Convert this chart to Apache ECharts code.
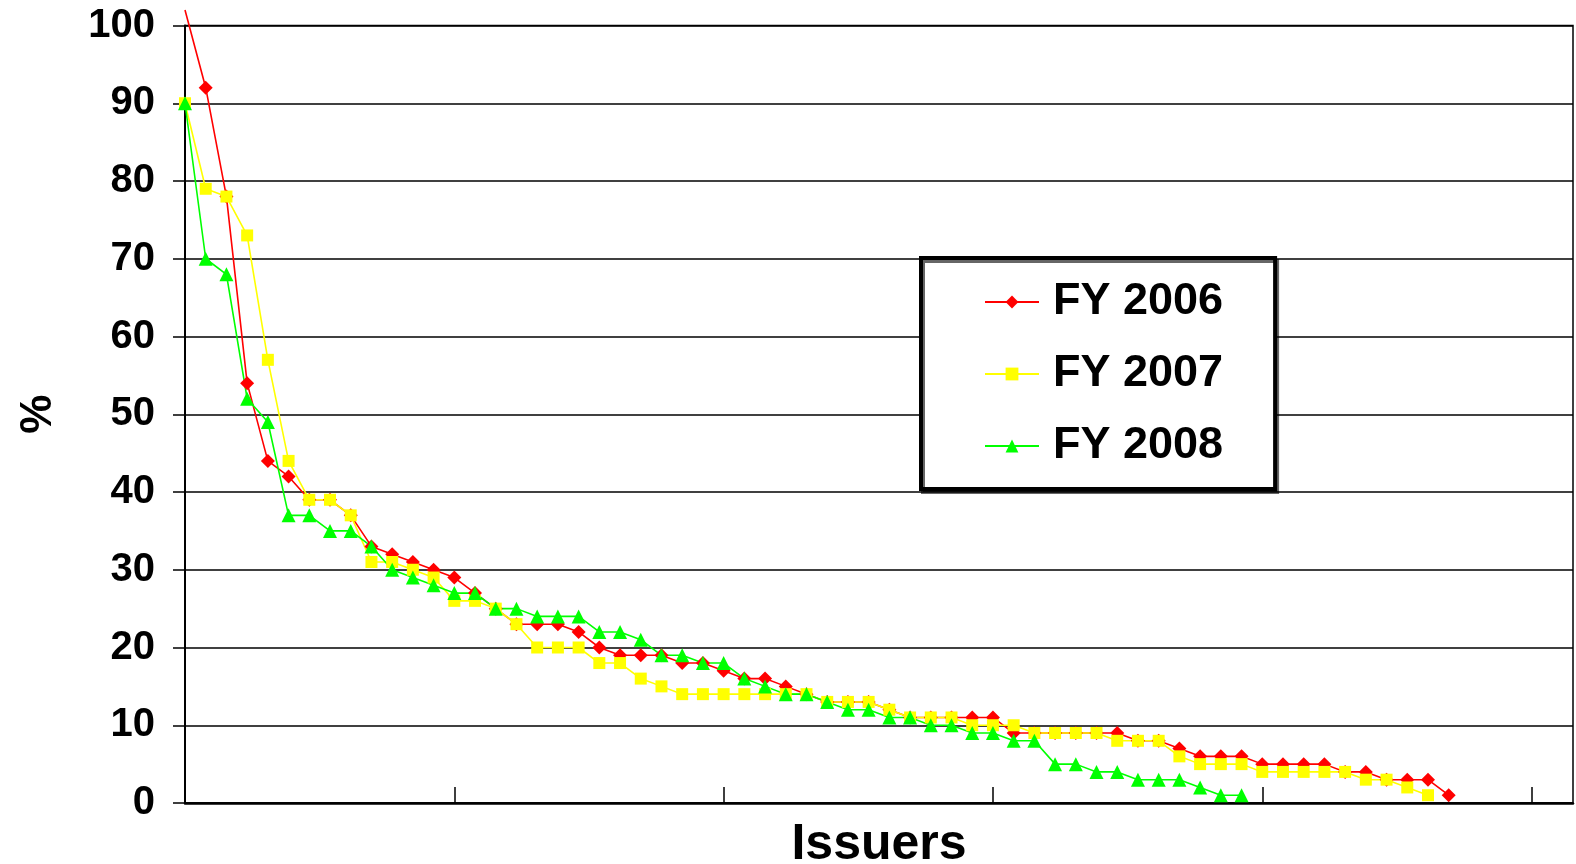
<!DOCTYPE html>
<html>
<head>
<meta charset="utf-8">
<script src="https://cdn.jsdelivr.net/npm/echarts@6/dist/echarts.min.js"></script>
<style>
html,body{margin:0;padding:0;background:#fff;}
#chart{width:1576px;height:864px;}
</style>
</head>
<body>
<div id="chart"></div>
<script>
// Categories (issuers ranked) - 68 slots on the category axis
const issuers = ['1','2','3','4','5','6','7','8','9','10','11','12','13','14','15','16','17','18','19','20',
  '21','22','23','24','25','26','27','28','29','30','31','32','33','34','35','36','37','38','39','40',
  '41','42','43','44','45','46','47','48','49','50','51','52','53','54','55','56','57','58','59','60',
  '61','62','63','64','65','66','67','68'];

const yTicks = [0,10,20,30,40,50,60,70,80,90,100];

const seriesNames = ['FY 2006','FY 2007','FY 2008'];

const fy2006 = [102,92,78,54,44,42,39,39,37,33,32,31,30,29,27,25,23,23,23,22,
  20,19,19,19,18,18,17,16,16,15,14,13,13,13,12,11,11,11,11,11,
  9,9,9,9,9,9,8,8,7,6,6,6,5,5,5,5,4,4,3,3,3,1];

const fy2007 = [90,79,78,73,57,44,39,39,37,31,31,30,29,26,26,25,23,20,20,20,
  18,18,16,15,14,14,14,14,14,14,14,13,13,13,12,11,11,11,10,10,
  10,9,9,9,9,8,8,8,6,5,5,5,4,4,4,4,4,3,3,2,1];

const fy2008 = [90,70,68,52,49,37,37,35,35,33,30,29,28,27,27,25,25,24,24,24,
  22,22,21,19,19,18,18,16,15,14,14,13,12,12,11,11,10,10,9,9,
  8,8,5,5,4,4,3,3,3,2,1,1];

const FONT = "'Liberation Sans', Arial, Helvetica, sans-serif";

const chart = echarts.init(document.getElementById('chart'), null, {renderer:'canvas'});

function mkSeries(name, data, color, symbol, size){
  return {
    name: name,
    type: 'line',
    data: data,
    clip: false,
    symbol: symbol,
    symbolSize: size,
    showAllSymbol: true,
    lineStyle: {color: color, width: 1.6},
    itemStyle: {color: color, borderWidth: 0},
    emphasis: {disabled: true},
    animation: false
  };
}

const option = {
  backgroundColor: '#ffffff',
  animation: false,
  grid: {
    left: 185, right: 3, top: 25.5, bottom: 61,
    outerBoundsMode: 'none',
    containLabel: false,
    show: true, borderColor: '#000', borderWidth: 1.5, backgroundColor: 'transparent'
  },
  legend: {
    orient: 'vertical',
    left: 921, top: 258,
    padding: [19, 52, 18, 63],
    itemGap: 22,
    itemWidth: 54,
    itemHeight: 16,
    backgroundColor: '#fff',
    borderColor: '#000',
    borderWidth: 4,
    shadowColor: 'rgba(0,0,0,0.6)',
    shadowBlur: 0,
    shadowOffsetX: 2,
    shadowOffsetY: 3,
    data: seriesNames,
    textStyle: {
      fontFamily: FONT, fontWeight: 'bold', fontSize: 45, color: '#000',
      lineHeight: 50, padding: [0,0,0,9]
    }
  },
  xAxis: {
    type: 'category',
    data: issuers,
    boundaryGap: false,
    name: 'Issuers',
    nameLocation: 'middle',
    nameGap: 17,
    nameTextStyle: {fontFamily: FONT, fontWeight: 'bold', fontSize: 50, color: '#000', verticalAlign: 'top'},
    axisLine: {show: true, lineStyle: {color: '#000', width: 2.5}},
    axisTick: {show: true, inside: true, length: 16, interval: 12, lineStyle: {color: '#000', width: 1.5}},
    axisLabel: {show: false},
    splitLine: {show: false}
  },
  yAxis: {
    type: 'value',
    min: yTicks[0], max: yTicks[yTicks.length-1], interval: 10,
    name: '%',
    nameLocation: 'middle',
    nameRotate: 90,
    nameGap: 124,
    nameTextStyle: {fontFamily: FONT, fontWeight: 'bold', fontSize: 44, color: '#000'},
    axisLine: {show: true, lineStyle: {color: '#000', width: 2}},
    axisTick: {show: true, inside: false, length: 12, lineStyle: {color: '#000', width: 1.5}},
    axisLabel: {fontFamily: FONT, fontWeight: 'bold', fontSize: 40, color: '#000', margin: 30},
    splitLine: {show: true, lineStyle: {color: '#000', width: 1.5}}
  },
  series: [
    mkSeries(seriesNames[0], fy2006.map((v,i)=> i===0 ? {value: v, symbol: 'none'} : v), '#ff0000', 'diamond', 14),
    mkSeries(seriesNames[1], fy2007, '#ffff00', 'rect', 12),
    mkSeries(seriesNames[2], fy2008, '#00ff00', 'triangle', 14)
  ]
};

chart.setOption(option);
</script>
</body>
</html>
